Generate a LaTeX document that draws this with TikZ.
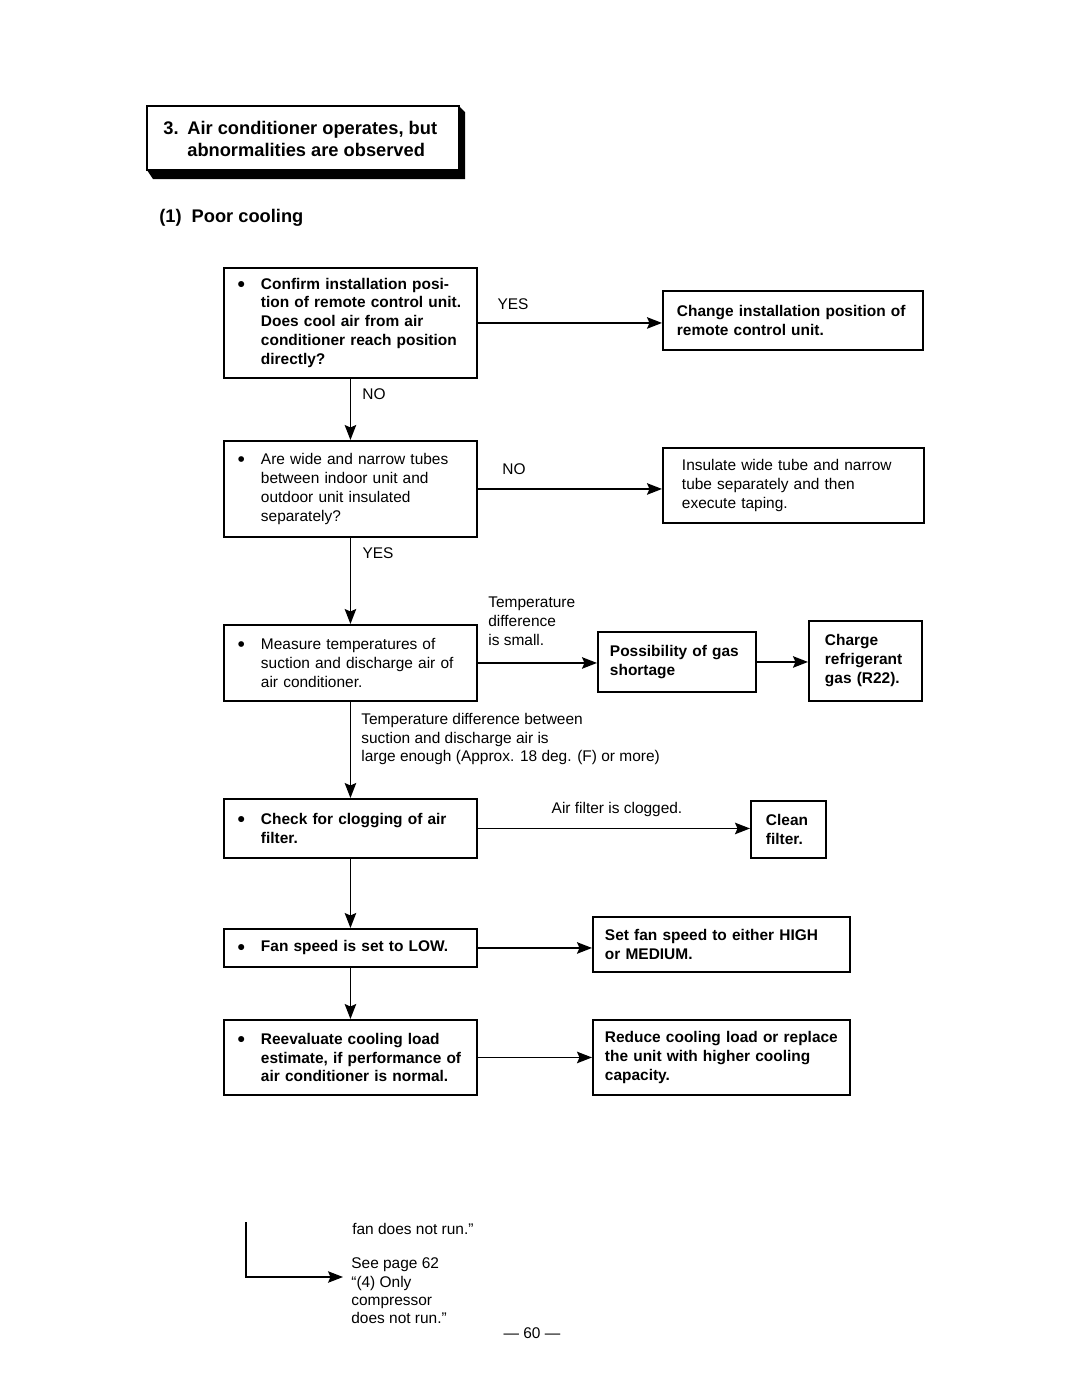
\documentclass[tikz,border=0pt]{standalone}
\usepackage{fontspec}
\setmainfont{Liberation Sans}
\usetikzlibrary{arrows.meta}

\newcommand{\bul}[1]{\leftskip=0.74cm\noindent\llap{\raisebox{-1.2pt}{\fontsize{12pt}{10.8pt}\selectfont\textbullet}\hspace{0.32cm}}#1\par}
\newcommand{\pad}[2]{\leftskip=#1\noindent#2\par}

\tikzset{
  box/.style={draw, line width=1.1pt, rectangle, anchor=north west, inner xsep=0pt, inner ysep=0pt,
    align=left, font=\fontsize{8.8pt}{10.8pt}\selectfont},
  bbox/.style={box, font=\fontsize{8.8pt}{10.8pt}\selectfont\bfseries},
  arr/.style={line width=0.9pt, -{Stealth[length=3mm,width=2.3mm,inset=0.5mm]}},
  lbl/.style={inner sep=0pt, align=left, font=\fontsize{8.8pt}{10.8pt}\selectfont}
}

\begin{document}
\begin{tikzpicture}[x=0.02cm, y=-0.02cm]
            \useasboundingbox (0,0) rectangle (1080,1397);

            % Draw the heading box
            \fill (459,106) -- (465,112) -- (465,179) -- (153,179) -- (147,170) -- cycle;
            \draw[line width=1.1pt, fill=white] (147,106) rectangle (459,170);
            \node[anchor=west, inner sep=0pt, align=left, font=\fontsize{10.4pt}{13pt}\selectfont\bfseries] (title) at (163,139)
                {\makebox[0.48cm][l]{3.}Air conditioner operates, but\\\hspace*{0.48cm}abnormalities are observed};
            \node[anchor=west, inner sep=0pt, font=\fontsize{10.4pt}{13pt}\selectfont\bfseries] (subtitle) at (159,218)
                {(1)\hspace{0.2cm}Poor cooling};

            % Draw the check boxes
            \node[bbox, text width=5.06cm, minimum height=2.2cm] (posbox) at (223,267)
                {\bul{Confirm installation posi-\\tion of remote control unit.\\Does cool air from air\\conditioner reach position\\directly?}};
            \node[box, text width=5.06cm, minimum height=1.92cm] (tubebox) at (223,440)
                {\bul{Are wide and narrow tubes\\between indoor unit and\\outdoor unit insulated\\separately?}};
            \node[box, text width=5.06cm, minimum height=1.52cm] (tempbox) at (223,624)
                {\bul{Measure temperatures of\\suction and discharge air of\\air conditioner.}};
            \node[bbox, text width=5.06cm, minimum height=1.18cm] (filterbox) at (223,798)
                {\bul{Check for clogging of air\\filter.}};
            \node[bbox, text width=5.06cm, minimum height=0.76cm] (fanbox) at (223,928)
                {\bul{Fan speed is set to LOW.}};
            \node[bbox, text width=5.06cm, minimum height=1.5cm] (loadbox) at (223,1019)
                {\bul{Reevaluate cooling load\\estimate, if performance of\\air conditioner is normal.}};

            % Draw the remedy boxes
            \node[bbox, text width=5.2cm, minimum height=1.18cm] (posfix) at (662,290)
                {\pad{0.28cm}{Change installation position of\\remote control unit.}};
            \node[box, text width=5.22cm, minimum height=1.5cm] (tubefix) at (662,447)
                {\pad{0.38cm}{Insulate wide tube and narrow\\tube separately and then\\execute taping.}};
            \node[bbox, text width=3.16cm, minimum height=1.2cm] (gasbox) at (597,631)
                {\pad{0.24cm}{Possibility of gas\\shortage}};
            \node[bbox, text width=2.26cm, minimum height=1.6cm] (chargebox) at (808,620)
                {\pad{0.32cm}{Charge\\refrigerant\\gas (R22).}};
            \node[bbox, text width=1.5cm, minimum height=1.14cm] (cleanbox) at (750,800)
                {\pad{0.3cm}{Clean\\filter.}};
            \node[bbox, text width=5.14cm, minimum height=1.1cm] (fanfix) at (592,916)
                {\pad{0.24cm}{Set fan speed to either HIGH\\or MEDIUM.}};
            \node[bbox, text width=5.14cm, minimum height=1.5cm] (loadfix) at (592,1019)
                {\pad{0.24cm}{Reduce cooling load or replace\\the unit with higher cooling\\capacity.}};

            % Draw the arrows
            \draw[arr] (posbox.east) -- (posbox.east -| posfix.west);
            \draw[arr] (posbox.south) -- (tubebox.north);
            \draw[arr] (tubebox.east) -- (tubebox.east -| tubefix.west);
            \draw[arr] (tubebox.south) -- (tempbox.north);
            \draw[arr] (tempbox.east) -- (tempbox.east -| gasbox.west);
            \draw[arr] (gasbox.east) -- (gasbox.east -| chargebox.west);
            \draw[arr] (tempbox.south) -- (filterbox.north);
            \draw[arr] (filterbox.east) -- (filterbox.east -| cleanbox.west);
            \draw[arr] (filterbox.south) -- (fanbox.north);
            \draw[arr] (fanbox.east) -- (fanbox.east -| fanfix.west);
            \draw[arr] (fanbox.south) -- (loadbox.north);
            \draw[arr] (loadbox.east) -- (loadbox.east -| loadfix.west);

            % Draw arrow labels
            \node[lbl] (yes1) at (513,304) {YES};
            \node[lbl] (no1) at (374,394) {NO};
            \node[lbl] (no2) at (514,469) {NO};
            \node[lbl] (yes2) at (378,553) {YES};
            \node[lbl, anchor=west] (small) at (488,621) {Temperature\\difference\\is small.};
            \node[lbl, anchor=west] (large) at (361,739)
                {Temperature difference between\\suction and discharge air is\\large enough (Approx. 18 deg. (F) or more)};
            \node[lbl] (clogged) at (617,809) {Air filter is clogged.};

            % Draw the page reference
            \coordinate (ret) at (246,1222);
            \coordinate (rettip) at (343,1277);
            \draw[arr, line width=0.7pt] (ret) |- (rettip);
            \node[lbl, anchor=west] (fanrun) at (352,1229) {fan does not run.''};
            \node[lbl, anchor=west, font=\fontsize{8.8pt}{10.4pt}\selectfont] (seepage) at (351,1291)
                {See page 62\\``(4) Only\\compressor\\does not run.''};
            \node[lbl] (pageno) at (532,1333) {--- 60 ---};
\end{tikzpicture}
\end{document}
